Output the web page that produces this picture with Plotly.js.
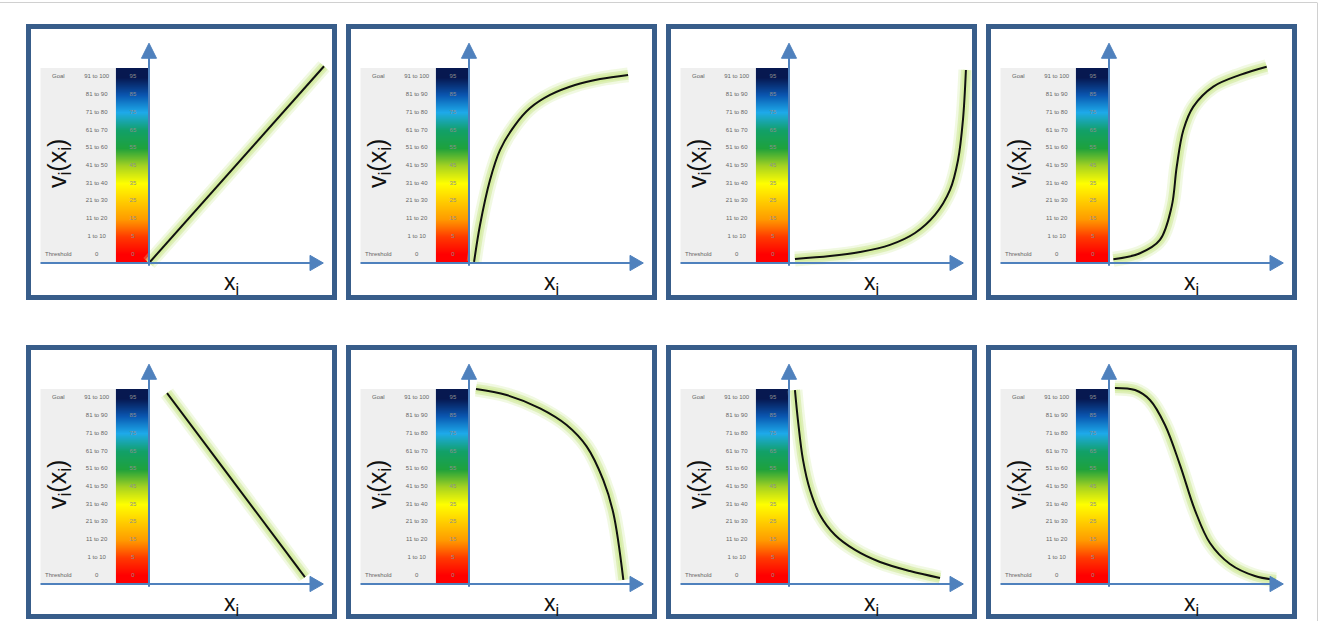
<!DOCTYPE html>
<html><head><meta charset="utf-8">
<script src="https://cdn.plot.ly/plotly-3.0.1.min.js"></script>
<style>html,body{margin:0;padding:0;background:#fff;overflow:hidden}</style>
</head><body><div id="chart" style="width:1319px;height:621px"></div>
<script>
// ---------- data ----------
const ROW_NAMES  = ['Threshold','','','','','','','','','','Goal'];
const ROW_RANGES = ['0','1 to 10','11 to 20','21 to 30','31 to 40','41 to 50','51 to 60','61 to 70','71 to 80','81 to 90','91 to 100'];
const ROW_SCORES = [0,5,15,25,35,45,55,65,75,85,95];
const ROW_EDGES  = [0,10,20,30,40,50,60,70,80,90,100,110];
const X_LABEL = 'x<sub>i</sub>';
const V_LABEL = 'v<sub>i</sub>(x<sub>i</sub>)';

// value functions (x in axis units, v in colour-band units)
const curve1X = [0, 100];
const curve1V = [0, 111];
const curve2X = [2.9, 6.3, 12, 17.7, 26.3, 34.9, 46.3, 60.6, 74.9, 90.9];
const curve2V = [0.6, 21.4, 46.8, 63.7, 77.8, 87.4, 94.8, 100.4, 103.8, 106.1];
const curve3X = [3.4, 23.4, 40.6, 57.7, 72, 83.4, 92, 96.6, 99.4, 101.1];
const curve3V = [2.3, 3.9, 6.2, 10.2, 16.9, 27.1, 41.2, 58.1, 80.7, 108.9];
const curve4X = [2.5, 17.7, 29.1, 35.8, 38.7, 42.5, 48.2, 59.6, 74.9, 90.1];
const curve4V = [2.1, 5.5, 13, 31.8, 54.3, 75, 88.2, 99.5, 106.1, 110.7];
const curve5X = [10.3, 89.1];
const curve5V = [107.7, 3.9];
const curve6X = [4, 21.5, 40.6, 55.8, 67.3, 76.7, 82.5, 88.2];
const curve6V = [110, 106.6, 99.1, 89.7, 77.5, 58.7, 39.9, 2.3];
const curve7X = [3.4, 5.1, 8, 12, 17.7, 26.3, 37.7, 52, 69.1, 86.3];
const curve7V = [109.4, 92.5, 70, 53, 38.9, 27.6, 19.2, 12.4, 7.3, 3.4];
const curve8X = [3.4, 14.9, 23.4, 32, 40.6, 49.1, 57.7, 69.1, 83.4, 95.4];
const curve8V = [110.6, 109.4, 103.8, 89.7, 67.1, 41.7, 23.1, 11.3, 4.5, 2.3];

const CURVES_X = [curve1X, curve2X, curve3X, curve4X, curve5X, curve6X, curve7X, curve8X];
const CURVES_V = [curve1V, curve2V, curve3V, curve4V, curve5V, curve6V, curve7V, curve8V];

// ---------- styling / layout geometry ----------
const W = 1319, H = 621;
const SX = 1.75, SY = 1.7727;           // px per axis unit
const XR = [-68, 106], YR = [-19, 125];
const FRAME = '#385D8A', AXC = '#4F81BD';
const colorscale = [
  [0/95,  '#ff0000'],
  [5/95,  '#ff3a00'],
  [15/95, '#ff9a00'],
  [25/95, '#ffcc00'],
  [35/95, '#ffff00'],
  [45/95, '#a6d321'],
  [55/95, '#1fa23c'],
  [65/95, '#12a068'],
  [75/95, '#1eaaea'],
  [85/95, '#0a56b0'],
  [95/95, '#071850']
];

const px = x => x / W, py = y => 1 - y / H;
const rowMid = ROW_EDGES.slice(0, -1).map((e, i) => (e + ROW_EDGES[i + 1]) / 2);
const nameIdx = ROW_NAMES.map((n, i) => n ? i : -1).filter(i => i >= 0);

const traces = [], shapes = [], annotations = [];
const layout = {
  width: W, height: H, margin: {l:0, r:0, t:0, b:0},
  paper_bgcolor: '#ffffff', plot_bgcolor: 'rgba(0,0,0,0)',
  showlegend: false, font: {family: 'Liberation Sans, Arial, sans-serif'}
};

// outer faint border of the picture
shapes.push({type:'line', xref:'paper', yref:'paper', x0:0, x1:px(1317), y0:py(2.5), y1:py(2.5), line:{color:'#d0d0d0', width:1}, layer:'below'});
shapes.push({type:'line', xref:'paper', yref:'paper', x0:px(1317.5), x1:px(1317.5), y0:py(2.5), y1:0, line:{color:'#d0d0d0', width:1}, layer:'below'});

for (let k = 0; k < 8; k++) {
  const c = k % 4, r = Math.floor(k / 4);
  const ox = 149 + 320 * c, oy = 263 + 321 * r;
  const xn = 'x' + (k ? k + 1 : ''), yn = 'y' + (k ? k + 1 : '');
  const xa = 'xaxis' + (k ? k + 1 : ''), ya = 'yaxis' + (k ? k + 1 : '');
  layout[xa] = {domain:[px(ox + XR[0]*SX), px(ox + XR[1]*SX)], range:XR, visible:false, fixedrange:true, anchor:yn};
  layout[ya] = {domain:[py(oy - YR[0]*SY), py(oy - YR[1]*SY)], range:YR, visible:false, fixedrange:true, anchor:xn};

  // frame
  const fl = 28.5 + 320*c, fr = 334.5 + 320*c;
  const ft = r ? 347.5 : 26.5, fb = r ? 616.5 : 297.5;
  shapes.push({type:'rect', xref:'paper', yref:'paper', x0:px(fl), x1:px(fr), y0:py(fb), y1:py(ft),
    line:{color:FRAME, width:5}, fillcolor:'rgba(0,0,0,0)'});

  // grey label background
  shapes.push({type:'rect', xref:xn, yref:yn, x0:-62, x1:-18.9, y0:0, y1:110, line:{width:0}, fillcolor:'#efefef', layer:'below'});

  // colour band
  traces.push({type:'heatmap', xaxis:xn, yaxis:yn, x:[-18.9, -9.45, 0], y:ROW_EDGES,
    z: ROW_SCORES.map(s => [s, s]), zmin:0, zmax:95, colorscale:colorscale, zsmooth:'best',
    showscale:false, hoverinfo:'skip'});

  // label columns
  traces.push({type:'scatter', mode:'text', xaxis:xn, yaxis:yn, x:nameIdx.map(() => -51.8), y:nameIdx.map(i => rowMid[i]),
    text:nameIdx.map(i => ROW_NAMES[i]), textfont:{size:6, color:'#666666'}, hoverinfo:'skip', cliponaxis:false});
  traces.push({type:'scatter', mode:'text', xaxis:xn, yaxis:yn, x:rowMid.map(() => -29.9), y:rowMid,
    text:ROW_RANGES, textfont:{size:6, color:'#666666'}, hoverinfo:'skip', cliponaxis:false});
  traces.push({type:'scatter', mode:'text', xaxis:xn, yaxis:yn, x:rowMid.map(() => -9.2), y:rowMid,
    text:ROW_SCORES.map(String), textfont:{size:6, color:'#8e8e8e'}, hoverinfo:'skip', cliponaxis:false});

  // axes with arrows
  shapes.push({type:'line', xref:xn, yref:yn, x0:-62, x1:93, y0:0, y1:0, line:{color:AXC, width:2}});
  shapes.push({type:'path', xref:xn, yref:yn, path:'M 92,4.3 L 99.6,0 L 92,-4.3 Z', fillcolor:AXC, line:{color:AXC, width:1}});
  shapes.push({type:'line', xref:xn, yref:yn, x0:0, x1:0, y0:-1.5, y1:116, line:{color:AXC, width:2}});
  shapes.push({type:'path', xref:xn, yref:yn, path:'M -4.3,115.5 L 0,124 L 4.3,115.5 Z', fillcolor:AXC, line:{color:AXC, width:1}});

  // curve with glow
  const cx = CURVES_X[k], cv = CURVES_V[k];
  const shp = cx.length > 2 ? 'spline' : 'linear';
  [[15, 'rgba(205,232,150,0.28)'], [10, 'rgba(205,232,150,0.55)'], [6, 'rgba(212,236,160,0.95)']].forEach(([w, col]) => {
    traces.push({type:'scatter', mode:'lines', xaxis:xn, yaxis:yn, x:cx, y:cv,
      line:{color:col, width:w, shape:shp, smoothing:1}, hoverinfo:'skip', cliponaxis:false});
  });
  traces.push({type:'scatter', mode:'lines', xaxis:xn, yaxis:yn, x:cx, y:cv,
    line:{color:'#111111', width:2, shape:shp, smoothing:1}, hoverinfo:'skip', cliponaxis:false});

  // axis titles
  annotations.push({xref:xn, yref:yn, x:47.3, y:-11.5, text:X_LABEL, showarrow:false,
    font:{size:23, color:'#111'}, xanchor:'center', yanchor:'middle'});
  annotations.push({xref:xn, yref:yn, x:-51.8, y:56, text:V_LABEL, showarrow:false, textangle:-90,
    font:{size:25, color:'#111'}, xanchor:'center', yanchor:'middle'});
}

layout.shapes = shapes;
layout.annotations = annotations;
Plotly.newPlot('chart', traces, layout, {staticPlot:true, displayModeBar:false});
</script>
</body></html>
